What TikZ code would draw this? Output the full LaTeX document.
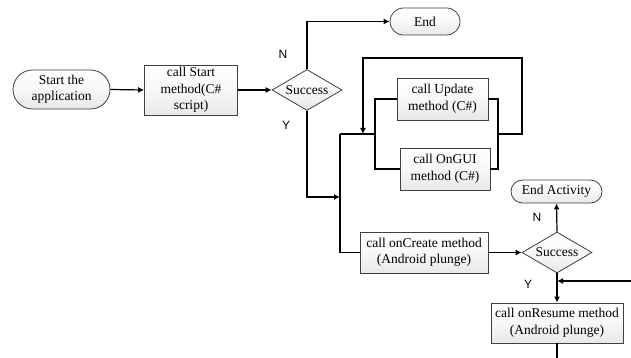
\documentclass[tikz,border=0pt]{standalone}
\usepackage{fontspec}
\setmainfont{Liberation Serif}
\newfontfamily\lsans{Liberation Sans}
\usetikzlibrary{arrows.meta,shapes.geometric}
\tikzset{
  boxfill/.style={draw=black!75, line width=0.8pt, top color=white, bottom color=gray!18, middle color=gray!6},
  term/.style={boxfill, rounded corners=#1, inner sep=0pt, align=center, font=\fontsize{13.5}{16.5}\selectfont},
  proc/.style={boxfill, rectangle, inner sep=0pt, align=center, font=\fontsize{13.5}{16.5}\selectfont},
  dec/.style={boxfill, diamond, aspect=1.7, inner sep=0pt, minimum width=70pt, minimum height=41pt, font=\fontsize{13.5}{16.5}\selectfont},
  conn/.style={line width=1.2pt, black},
  arr/.style={conn, -{Latex[length=6pt,width=6pt]}},
  yn/.style={font=\lsans\fontsize{12}{14}\selectfont}
}
\begin{document}
\begin{tikzpicture}[x=1pt,y=-1pt]
\useasboundingbox (0,0) rectangle (631,358);
% nodes
\node[term=19.5pt, minimum width=97pt, minimum height=39pt] (start) at (61.5,89.5) {Start the\\application};
\node[proc, minimum width=93pt, minimum height=50pt] (callstart) at (191,90) {call Start\\method(C\#\\script)};
\node[dec] (d1) at (307,90) {Success};
\node[term=13.5pt, minimum width=70pt, minimum height=27pt] (end) at (425,21.5) {End};
\node[proc, minimum width=91pt, minimum height=42pt] (update) at (442.5,99) {call Update\\method (C\#)};
\node[proc, minimum width=90pt, minimum height=42pt] (ongui) at (445,169) {call OnGUI\\method (C\#)};
\node[proc, minimum width=128pt, minimum height=41pt] (oncreate) at (424,252.5) {call onCreate method\\(Android plunge)};
\node[dec] (d2) at (557,252.5) {Success};
\node[term=11.5pt, minimum width=91pt, minimum height=23pt] (endact) at (556.5,191.5) {End Activity};
\node[proc, minimum width=132pt, minimum height=40pt] (onresume) at (557,323) {call onResume method\\(Android plunge)};
% labels
\node[yn] (n1) at (283,54) {N};
\node[yn] (y1) at (286,125) {Y};
\node[yn] (n2) at (537,217) {N};
\node[yn] (y2) at (528,284) {Y};
% coordinates
\coordinate (j1) at (340,197);
\coordinate (ja) at (340,134);
\coordinate (jl) at (375,134);
\coordinate (jr) at (498,134);
\coordinate (lp) at (522,58);
\coordinate (jarr) at (363,134);
\coordinate (rin) at (631,281);
\coordinate (rend) at (557,281);
\coordinate (rout) at (557,358);
% connectors
\draw[arr] (start.east) -- (callstart.west);
\draw[arr] (callstart.east) -- (d1.west);
\draw[arr] (d1.north) |- (end.west);
\draw[arr] (d1.south) |- (j1);
\draw[conn] (ja) |- (oncreate.west);
\draw[conn] (ja) -- (jl);
\draw[conn] (update.west) -| (jl) |- (ongui.west);
\draw[conn] (update.east) -| (jr) |- (ongui.east);
\draw[arr] (jr) -| (lp) -| (jarr);
\draw[arr] (oncreate.east) -- (d2.west);
\draw[arr] (d2.north) -- (endact.south);
\draw[arr] (d2.south) -- (onresume.north);
\draw[arr] (rin) -- (rend);
\draw[conn] (onresume.south) -- (rout);
\end{tikzpicture}
\end{document}
